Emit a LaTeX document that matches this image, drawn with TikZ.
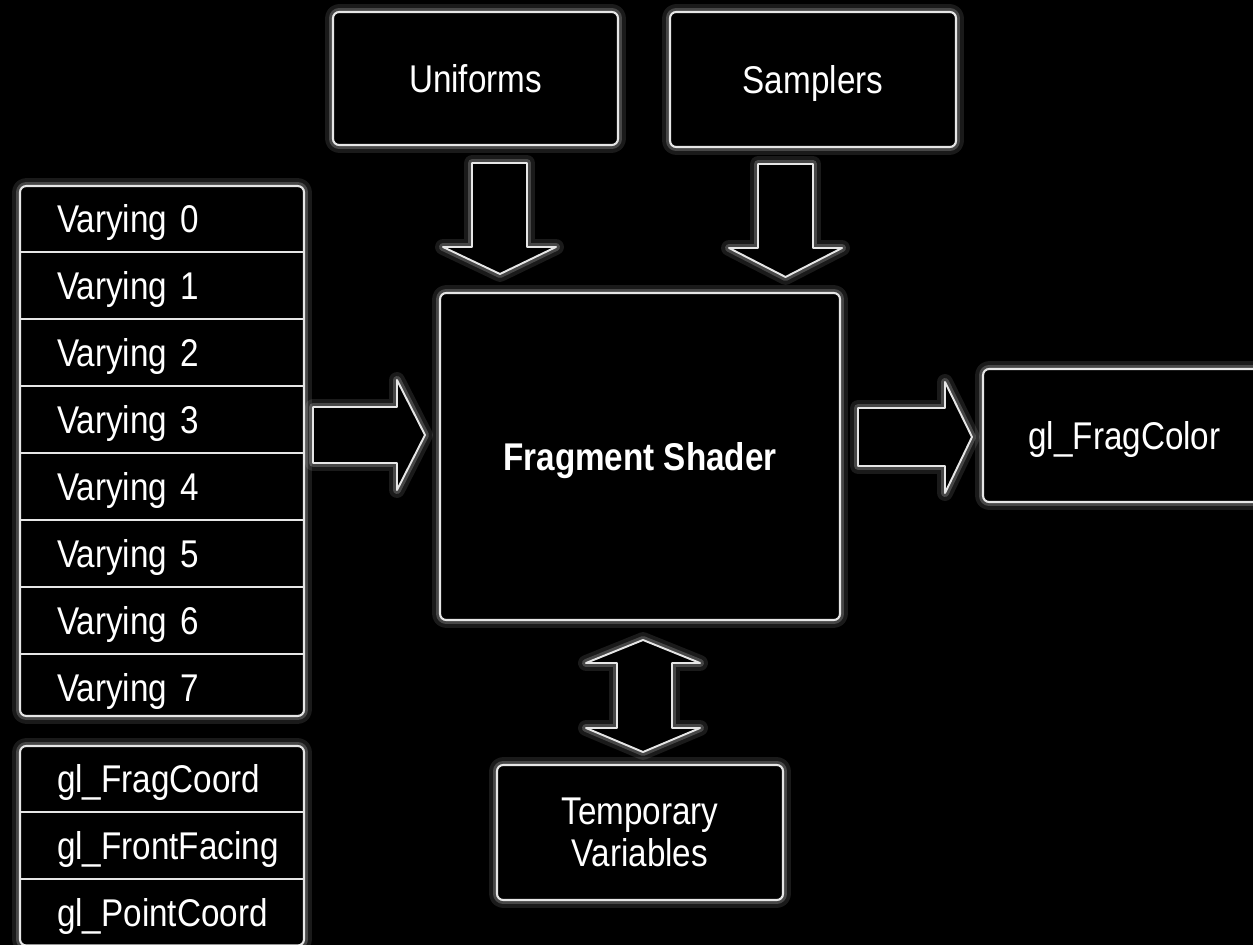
\documentclass[tikz,border=0pt]{standalone}
\usepackage{fontspec}
\setmainfont{Liberation Sans}[FakeStretch=0.86]
\usepackage{tikz}
\usetikzlibrary{positioning}
\definecolor{GlowLine}{HTML}{E6E6E6}

\begin{document}
\begin{tikzpicture}[
  x=0.02cm,y=-0.02cm,
  font=\fontsize{22}{24}\selectfont,text=white,
  glow/.style={preaction={draw=white,line width=9pt,opacity=0.1,line join=round},
    preaction={draw=white,line width=4.5pt,opacity=0.2,line join=round}},
  shbox/.style={glow,draw=GlowLine,fill=black,line width=1.2pt,rounded corners=3.5pt,align=center,inner sep=0pt},
  rowbox/.style={minimum width=5.68cm,minimum height=1.325cm,text width=4.2cm,text depth=0pt,inner xsep=0.74cm,inner ysep=0pt,align=left},
  sepline/.style={draw=GlowLine,line width=1.2pt},
  blockarrow/.style={glow,draw=GlowLine,fill=black,line width=1.1pt,line join=round}
]
\fill[black] (0,0) rectangle (1253,945);
\useasboundingbox (0,0) rectangle (1253,945);

% inputs on top
\node[shbox,minimum width=5.7cm,minimum height=2.66cm] (unif) at (475.5,78.5) {Uniforms};
\node[shbox,minimum width=5.72cm,minimum height=2.7cm,text depth=0pt] (samp) at (813,79.5) {Samplers};

% varyings
\node[shbox,minimum width=5.68cm,minimum height=10.6cm] (vstack) at (162,451) {};
\node[rowbox,anchor=north] (v0) at (vstack.north) {Varying 0};
\foreach \i [count=\j from 0] in {1,...,7}
  \node[rowbox,below=0pt of v\j] (v\i) {Varying \i};
\foreach \i in {0,...,6}
  \draw[sepline] (v\i.south west) -- (v\i.south east);

% built-in inputs
\node[shbox,minimum width=5.68cm,minimum height=3.99cm] (bstack) at (162,845.75) {};
\node[rowbox,minimum height=1.33cm,anchor=north] (fcoord) at (bstack.north) {gl\_FragCoord};
\node[rowbox,minimum height=1.33cm,below=0pt of fcoord] (ffacing) {gl\_FrontFacing};
\node[rowbox,minimum height=1.33cm,below=0pt of ffacing] (pcoord) {gl\_PointCoord};
\draw[sepline] (fcoord.south west) -- (fcoord.south east);
\draw[sepline] (ffacing.south west) -- (ffacing.south east);

\node[shbox,minimum width=8cm,minimum height=6.54cm,text depth=0pt,font=\fontsize{22}{24}\selectfont\bfseries] (frag) at (640,456.5) {Fragment Shader};
\node[shbox,minimum width=5.66cm,minimum height=2.66cm,text depth=0pt] (fcolor) at (1124.5,435.5) {gl\_FragColor};
\node[shbox,minimum width=5.72cm,minimum height=2.7cm] (temp) at (640,832.5) {Temporary\\Variables};

% block arrows
\draw[blockarrow] (472,163) -- (527,163) -- (527,247) -- (556,247) -- (500,274) -- (443,247) -- (472,247) -- cycle;
\draw[blockarrow] (758,164) -- (813,164) -- (813,248) -- (842,248) -- (785.5,277) -- (729,248) -- (758,248) -- cycle;
\draw[blockarrow] (313,407) -- (397,407) -- (397,380) -- (425,435) -- (397,490) -- (397,463) -- (313,463) -- cycle;
\draw[blockarrow] (858,408) -- (945,408) -- (945,382) -- (972,437) -- (945,493) -- (945,466) -- (858,466) -- cycle;
\draw[blockarrow] (643,640) -- (700,663) -- (672,663) -- (672,728) -- (700,728) -- (643,752)
  -- (586,728) -- (617,728) -- (617,663) -- (586,663) -- cycle;
\end{tikzpicture}
\end{document}
